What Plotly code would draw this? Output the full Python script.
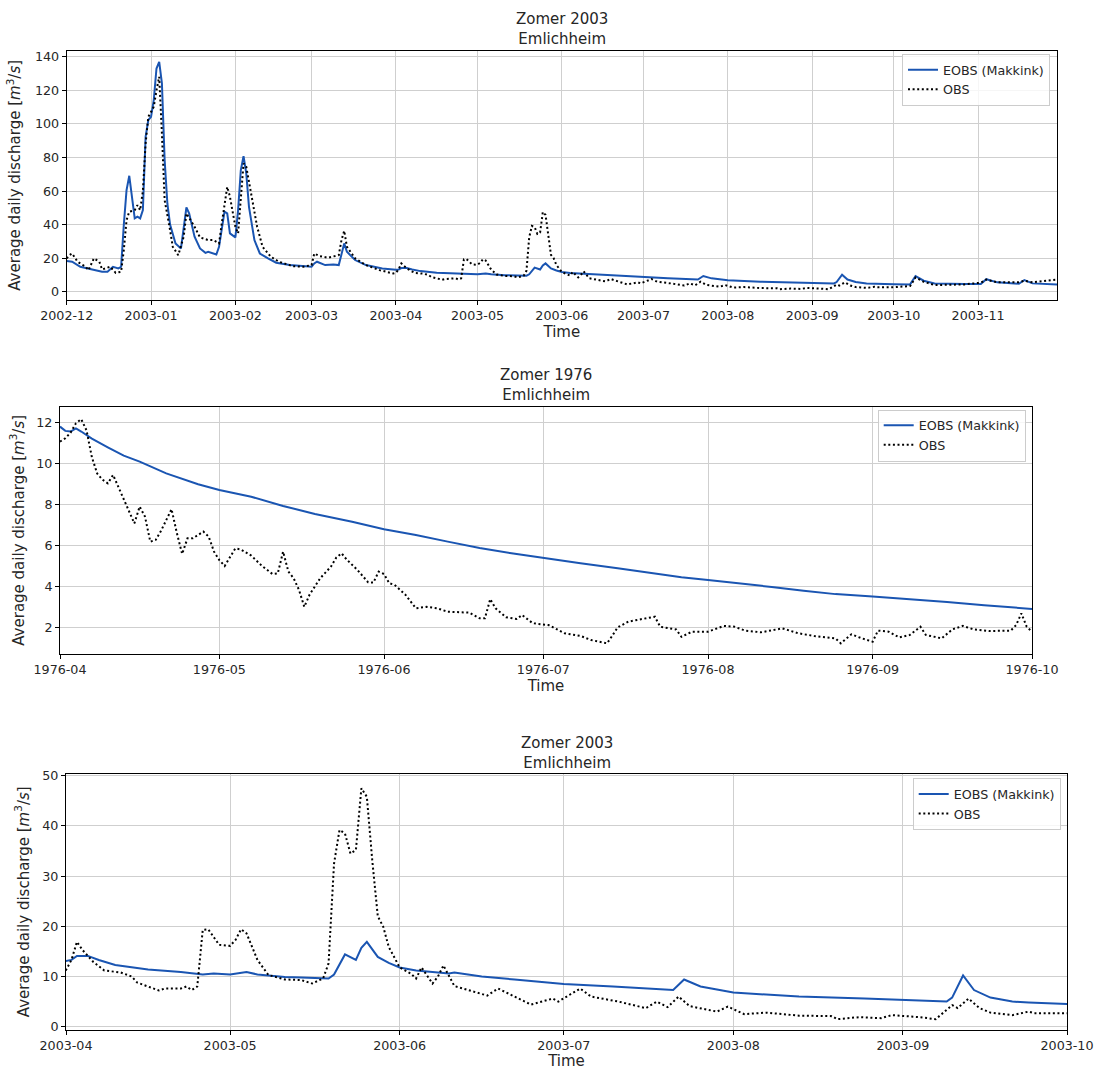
import plotly.graph_objects as go

# ---------------- data: 2002-12 .. 2003-11 (Emlichheim) ----------------
dates_2003_eobs = [
    "2002-12-01", "2002-12-03", "2002-12-06", "2002-12-11", "2002-12-14", "2002-12-16",
    "2002-12-18", "2002-12-20", "2002-12-21", "2002-12-22", "2002-12-23", "2002-12-24",
    "2002-12-25", "2002-12-26", "2002-12-27", "2002-12-28", "2002-12-29", "2002-12-30",
    "2002-12-31", "2003-01-01", "2003-01-02", "2003-01-03", "2003-01-04", "2003-01-05",
    "2003-01-06", "2003-01-07", "2003-01-08", "2003-01-10", "2003-01-12", "2003-01-14",
    "2003-01-15", "2003-01-17", "2003-01-19", "2003-01-21", "2003-01-22", "2003-01-23",
    "2003-01-25", "2003-01-26", "2003-01-28", "2003-01-29", "2003-01-30", "2003-02-01",
    "2003-02-02", "2003-02-03", "2003-02-04", "2003-02-05", "2003-02-06", "2003-02-08",
    "2003-02-10", "2003-02-13", "2003-02-16", "2003-02-21", "2003-02-27", "2003-03-01",
    "2003-03-02", "2003-03-03", "2003-03-06", "2003-03-09", "2003-03-11", "2003-03-12",
    "2003-03-13", "2003-03-14", "2003-03-17", "2003-03-21", "2003-03-27", "2003-04-01",
    "2003-04-02", "2003-04-03", "2003-04-05", "2003-04-07", "2003-04-10", "2003-04-16",
    "2003-04-22", "2003-04-26", "2003-04-28", "2003-05-01", "2003-05-04", "2003-05-06",
    "2003-05-11", "2003-05-14", "2003-05-18", "2003-05-19", "2003-05-20", "2003-05-22",
    "2003-05-24", "2003-05-25", "2003-05-26", "2003-05-28", "2003-05-30", "2003-06-01",
    "2003-06-04", "2003-06-10", "2003-06-11", "2003-06-16", "2003-06-22", "2003-07-01",
    "2003-07-10", "2003-07-21", "2003-07-23", "2003-07-26", "2003-08-01", "2003-08-13",
    "2003-08-25", "2003-09-01", "2003-09-09", "2003-09-10", "2003-09-12", "2003-09-14",
    "2003-09-17", "2003-09-21", "2003-09-24", "2003-10-01", "2003-10-07", "2003-10-09",
    "2003-10-12", "2003-10-16", "2003-10-27", "2003-11-02", "2003-11-04", "2003-11-08",
    "2003-11-16", "2003-11-18", "2003-11-21", "2003-11-30",
]
eobs_2003 = [
    18.3, 17.9, 14.9, 12.9, 11.9, 11.9,
    14.9, 13.9, 14.9, 40.0, 60.6, 69.1,
    56.6, 43.7, 44.7, 43.7, 48.6, 92.3,
    102.3, 104.2, 114.2, 133.0, 137.0, 124.1,
    78.4, 52.6, 40.0, 28.8, 25.8, 50.2,
    46.7, 32.8, 25.8, 23.2, 23.8, 23.4,
    22.2, 26.8, 47.7, 46.7, 34.8, 32.4,
    48.6, 72.5, 80.8, 70.5, 50.6, 30.8,
    22.8, 19.9, 17.3, 15.9, 14.9, 14.9,
    16.9, 17.9, 15.9, 16.3, 15.9, 22.8,
    28.8, 23.8, 18.9, 15.9, 13.9, 13.1,
    13.3, 14.1, 14.1, 13.3, 12.3, 11.4,
    10.9, 10.4, 10.6, 10.4, 10.9, 10.4,
    9.9, 9.8, 9.6, 9.6, 10.4, 14.4,
    13.3, 15.7, 16.9, 13.9, 12.7, 11.8,
    11.2, 10.6, 10.8, 10.0, 9.4, 8.5,
    8.0, 7.3, 9.4, 8.0, 6.8, 6.0,
    5.6, 5.3, 5.0, 5.8, 10.2, 7.3,
    5.8, 5.0, 4.8, 4.5, 4.4, 9.3,
    6.6, 5.0, 4.6, 4.6, 7.5, 5.6,
    4.8, 7.0, 5.0, 4.4,
]

dates_2003_obs = [
    "2002-12-01", "2002-12-02", "2002-12-03", "2002-12-05", "2002-12-08", "2002-12-09",
    "2002-12-11", "2002-12-13", "2002-12-14", "2002-12-17", "2002-12-19", "2002-12-21",
    "2002-12-22", "2002-12-23", "2002-12-24", "2002-12-26", "2002-12-27", "2002-12-28",
    "2002-12-29", "2002-12-30", "2002-12-31", "2003-01-02", "2003-01-03", "2003-01-04",
    "2003-01-05", "2003-01-06", "2003-01-08", "2003-01-09", "2003-01-11", "2003-01-13",
    "2003-01-14", "2003-01-17", "2003-01-19", "2003-01-22", "2003-01-24", "2003-01-26",
    "2003-01-27", "2003-01-29", "2003-01-30", "2003-02-01", "2003-02-02", "2003-02-03",
    "2003-02-04", "2003-02-05", "2003-02-07", "2003-02-09", "2003-02-11", "2003-02-14",
    "2003-02-17", "2003-02-22", "2003-02-26", "2003-03-01", "2003-03-02", "2003-03-04",
    "2003-03-07", "2003-03-09", "2003-03-11", "2003-03-12", "2003-03-13", "2003-03-14",
    "2003-03-17", "2003-03-21", "2003-03-26", "2003-03-31", "2003-04-01", "2003-04-02",
    "2003-04-03", "2003-04-04", "2003-04-06", "2003-04-08", "2003-04-11", "2003-04-13",
    "2003-04-14", "2003-04-17", "2003-04-18", "2003-04-19", "2003-04-22", "2003-04-23",
    "2003-04-24", "2003-04-25", "2003-04-26", "2003-04-27", "2003-04-29", "2003-05-01",
    "2003-05-02", "2003-05-03", "2003-05-04", "2003-05-06", "2003-05-08", "2003-05-11",
    "2003-05-14", "2003-05-16", "2003-05-18", "2003-05-19", "2003-05-20", "2003-05-21",
    "2003-05-22", "2003-05-23", "2003-05-24", "2003-05-25", "2003-05-26", "2003-05-27",
    "2003-05-28", "2003-05-29", "2003-05-30", "2003-06-01", "2003-06-03", "2003-06-04",
    "2003-06-05", "2003-06-07", "2003-06-08", "2003-06-09", "2003-06-11", "2003-06-17",
    "2003-06-19", "2003-06-22", "2003-06-25", "2003-06-29", "2003-06-30", "2003-07-04",
    "2003-07-06", "2003-07-11", "2003-07-16", "2003-07-18", "2003-07-20", "2003-07-22",
    "2003-07-24", "2003-07-29", "2003-07-31", "2003-08-03", "2003-08-07", "2003-08-13",
    "2003-08-19", "2003-08-20", "2003-08-24", "2003-08-28", "2003-08-30", "2003-09-04",
    "2003-09-07", "2003-09-10", "2003-09-11", "2003-09-13", "2003-09-15", "2003-09-17",
    "2003-09-21", "2003-09-24", "2003-09-25", "2003-10-01", "2003-10-07", "2003-10-09",
    "2003-10-12", "2003-10-16", "2003-10-27", "2003-11-02", "2003-11-04", "2003-11-08",
    "2003-11-16", "2003-11-18", "2003-11-21", "2003-11-26", "2003-11-30",
]
obs_2003 = [
    19.9, 21.8, 22.8, 17.9, 14.9, 12.9,
    19.9, 17.9, 13.3, 14.9, 11.3, 11.9,
    25.0, 42.7, 47.7, 48.6, 51.6, 48.6,
    60.0, 88.4, 104.2, 110.2, 120.0, 128.1,
    94.3, 54.6, 36.7, 26.8, 21.8, 32.8,
    46.7, 38.7, 32.4, 30.8, 30.8, 28.8,
    40.7, 62.5, 56.6, 38.7, 34.8, 54.6,
    76.4, 74.5, 56.6, 38.7, 26.8, 20.9,
    17.9, 15.3, 14.9, 15.9, 22.8, 21.2,
    20.3, 20.9, 21.8, 30.8, 36.3, 26.8,
    19.9, 15.9, 12.9, 10.9, 11.3, 13.3,
    16.9, 15.3, 12.9, 11.2, 10.8, 10.0,
    8.8, 7.6, 7.2, 7.6, 7.6, 8.0,
    7.3, 8.0, 19.3, 19.4, 16.3, 16.1,
    17.3, 19.4, 18.6, 13.3, 10.3, 9.4,
    9.3, 8.6, 9.6, 12.6, 32.5, 39.2,
    38.5, 34.5, 35.2, 47.5, 45.8, 33.0,
    22.0, 19.9, 15.9, 11.8, 10.6, 9.6,
    11.8, 8.6, 10.0, 12.2, 8.1, 6.2,
    7.6, 6.0, 4.4, 5.6, 5.0, 7.6,
    6.0, 5.0, 3.7, 5.0, 3.9, 6.0,
    4.1, 3.0, 4.0, 2.5, 2.8, 2.2,
    2.1, 1.5, 1.9, 1.7, 2.3, 1.9,
    1.5, 4.3, 3.7, 5.6, 3.7, 2.8,
    2.3, 3.0, 2.7, 2.7, 3.4, 8.5,
    6.0, 4.0, 4.4, 5.4, 7.3, 5.6,
    5.6, 6.6, 5.6, 6.6, 7.3,
]

# ---------------- data: 1976-04 .. 1976-10 (Emlichheim) ----------------
dates_1976_eobs = [
    "1976-04-01", "1976-04-02", "1976-04-03", "1976-04-04", "1976-04-05", "1976-04-07",
    "1976-04-10", "1976-04-13", "1976-04-16", "1976-04-21", "1976-04-27", "1976-05-01",
    "1976-05-07", "1976-05-13", "1976-05-19", "1976-05-26", "1976-06-01", "1976-06-07",
    "1976-06-13", "1976-06-19", "1976-06-25", "1976-07-01", "1976-07-08", "1976-07-15",
    "1976-07-22", "1976-07-27", "1976-08-01", "1976-08-07", "1976-08-13", "1976-08-19",
    "1976-08-25", "1976-09-01", "1976-09-08", "1976-09-15", "1976-09-22", "1976-09-28",
    "1976-10-01",
]
eobs_1976 = [
    11.79, 11.58, 11.55, 11.70, 11.55, 11.20,
    10.78, 10.37, 10.08, 9.51, 8.98, 8.70,
    8.37, 7.92, 7.53, 7.15, 6.78, 6.50,
    6.18, 5.87, 5.61, 5.37, 5.12, 4.88,
    4.62, 4.44, 4.31, 4.15, 3.97, 3.78,
    3.62, 3.50, 3.38, 3.24, 3.08, 2.98,
    2.90,
]

dates_1976_obs = [
    "1976-04-01", "1976-04-02", "1976-04-03", "1976-04-04", "1976-04-05", "1976-04-06",
    "1976-04-07", "1976-04-08", "1976-04-09", "1976-04-10", "1976-04-11", "1976-04-12",
    "1976-04-13", "1976-04-14", "1976-04-15", "1976-04-16", "1976-04-17", "1976-04-18",
    "1976-04-19", "1976-04-20", "1976-04-21", "1976-04-22", "1976-04-23", "1976-04-24",
    "1976-04-25", "1976-04-26", "1976-04-28", "1976-04-29", "1976-04-30", "1976-05-01",
    "1976-05-02", "1976-05-04", "1976-05-05", "1976-05-07", "1976-05-09", "1976-05-11",
    "1976-05-12", "1976-05-13", "1976-05-14", "1976-05-15", "1976-05-16", "1976-05-17",
    "1976-05-18", "1976-05-19", "1976-05-20", "1976-05-22", "1976-05-23", "1976-05-24",
    "1976-05-25", "1976-05-27", "1976-05-28", "1976-05-29", "1976-05-30", "1976-05-31",
    "1976-06-01", "1976-06-02", "1976-06-03", "1976-06-04", "1976-06-05", "1976-06-07",
    "1976-06-09", "1976-06-11", "1976-06-13", "1976-06-17", "1976-06-19", "1976-06-20",
    "1976-06-21", "1976-06-22", "1976-06-24", "1976-06-26", "1976-06-27", "1976-06-29",
    "1976-07-02", "1976-07-05", "1976-07-08", "1976-07-10", "1976-07-13", "1976-07-14",
    "1976-07-15", "1976-07-17", "1976-07-20", "1976-07-22", "1976-07-23", "1976-07-26",
    "1976-07-27", "1976-07-29", "1976-08-01", "1976-08-04", "1976-08-06", "1976-08-08",
    "1976-08-11", "1976-08-15", "1976-08-18", "1976-08-21", "1976-08-25", "1976-08-26",
    "1976-08-28", "1976-08-30", "1976-09-01", "1976-09-02", "1976-09-04", "1976-09-06",
    "1976-09-08", "1976-09-10", "1976-09-11", "1976-09-14", "1976-09-16", "1976-09-18",
    "1976-09-20", "1976-09-23", "1976-09-27", "1976-09-28", "1976-09-29", "1976-09-30",
    "1976-10-01",
]
obs_1976 = [
    11.06, 11.22, 11.50, 11.95, 12.15, 11.60,
    10.30, 9.50, 9.20, 9.02, 9.43, 8.86,
    8.21, 7.72, 7.07, 7.89, 7.40, 6.18,
    6.26, 6.70, 7.20, 7.76, 6.60, 5.58,
    6.34, 6.34, 6.67, 6.42, 5.69, 5.28,
    4.99, 5.85, 5.80, 5.50, 5.00, 4.60,
    4.63, 5.69, 4.72, 4.39, 3.82, 3.00,
    3.60, 3.98, 4.40, 4.96, 5.40, 5.61,
    5.30, 4.80, 4.50, 4.20, 4.18, 4.72,
    4.60, 4.15, 4.07, 3.85, 3.60, 2.93,
    3.00, 2.93, 2.76, 2.72, 2.44, 2.44,
    3.38, 2.93, 2.49, 2.41, 2.60, 2.20,
    2.11, 1.71, 1.58, 1.38, 1.22, 1.60,
    2.00, 2.28, 2.44, 2.52, 2.03, 1.90,
    1.54, 1.79, 1.79, 2.07, 2.03, 1.84,
    1.76, 1.95, 1.71, 1.58, 1.46, 1.22,
    1.66, 1.46, 1.30, 1.84, 1.79, 1.51,
    1.63, 2.03, 1.63, 1.46, 1.90, 2.07,
    1.90, 1.82, 1.84, 2.11, 2.68, 2.03,
    1.79,
]

titles = ["Zomer 2003<br>Emlichheim", "Zomer 1976<br>Emlichheim", "Zomer 2003<br>Emlichheim"]
series_names = ["EOBS (Makkink)", "OBS"]
y_label = "Average daily discharge [<i>m</i><sup>3</sup>/<i>s</i>]"
x_label = "Time"

# ---------------- layout geometry ----------------
W, H = 1097, 1070
BLUE = "#1a55b2"
TXT = "#262626"
FONT = "DejaVu Sans"

# (left, right, top, bottom) in px
boxes = [
    (66.7, 1057.0, 50.7, 300.0),
    (60.0, 1032.0, 406.7, 654.0),
    (66.0, 1067.0, 774.0, 1029.5),
]
xranges = [["2002-12-01", "2003-11-30"], ["1976-04-01", "1976-10-01"], ["2003-04-01", "2003-10-01"]]
tick0s = ["2002-12-01", "1976-04-01", "2003-04-01"]
yranges = [[-4.9, 143.6], [0.70, 12.76], [-0.56, 50.34]]
ydticks = [20, 2, 10]
ytick0s = [0, 2, 0]
title_centers = [29.0, 385.2, 752.7]
legend_pos = [(1050.0, 54.0), (1025.7, 409.6), (1060.7, 778.3)]
ystandoffs = [10, 8, 9]

datasets = [
    (dates_2003_eobs, eobs_2003, dates_2003_obs, obs_2003),
    (dates_1976_eobs, eobs_1976, dates_1976_obs, obs_1976),
    (dates_2003_eobs, eobs_2003, dates_2003_obs, obs_2003),
]

fig = go.Figure()
layout = dict(
    width=W, height=H,
    margin=dict(l=0, r=0, t=0, b=0),
    paper_bgcolor="white", plot_bgcolor="white",
    font=dict(family=FONT, size=12.7, color=TXT),
    annotations=[],
)

for i in range(3):
    n = "" if i == 0 else str(i + 1)
    leg = "legend" + n
    de, ve, do, vo = datasets[i]
    fig.add_trace(go.Scatter(
        x=de, y=ve, mode="lines", name=series_names[0],
        line=dict(color=BLUE, width=2), xaxis="x" + n, yaxis="y" + n,
        legend=leg, showlegend=True,
    ))
    fig.add_trace(go.Scatter(
        x=do, y=vo, mode="lines", name=series_names[1],
        line=dict(color="black", width=2, dash="2px,2.6px"), xaxis="x" + n, yaxis="y" + n,
        legend=leg, showlegend=True,
    ))
    l, r, t, b = boxes[i]
    axis_common = dict(
        automargin=False,
        showline=True, linecolor="black", linewidth=1, mirror=True,
        ticks="outside", ticklen=4, tickcolor="black", tickwidth=1,
        showgrid=True, gridcolor="#cfcfcf", gridwidth=1.2, zeroline=False,
        tickfont=dict(family=FONT, size=12.7, color=TXT),
    )
    layout["xaxis" + n] = dict(
        axis_common, domain=[l / W, r / W], anchor="y" + n,
        type="date", range=xranges[i], tick0=tick0s[i], dtick="M1", tickformat="%Y-%m",
        title=dict(text=x_label, font=dict(family=FONT, size=15, color=TXT), standoff=4),
    )
    layout["yaxis" + n] = dict(
        axis_common, domain=[1 - b / H, 1 - t / H], anchor="x" + n,
        range=yranges[i], tick0=ytick0s[i], dtick=ydticks[i],
        title=dict(text=y_label, font=dict(family=FONT, size=15, color=TXT), standoff=ystandoffs[i]),
    )
    layout["annotations"].append(dict(
        text=titles[i], x=(l + r) / 2 / W, y=1 - title_centers[i] / H,
        xref="paper", yref="paper", xanchor="center", yanchor="middle",
        showarrow=False, font=dict(family=FONT, size=15, color=TXT),
    ))
    lx, ly = legend_pos[i]
    layout[leg] = dict(
        x=lx / W, y=1 - ly / H, xanchor="right", yanchor="top",
        xref="paper", yref="paper",
        bgcolor="rgba(255,255,255,0.8)", bordercolor="#cccccc", borderwidth=1,
        font=dict(family=FONT, size=12.7, color=TXT),
        itemwidth=30, tracegroupgap=0,
    )

fig.update_layout(**layout)
fig.write_html("out.html")
